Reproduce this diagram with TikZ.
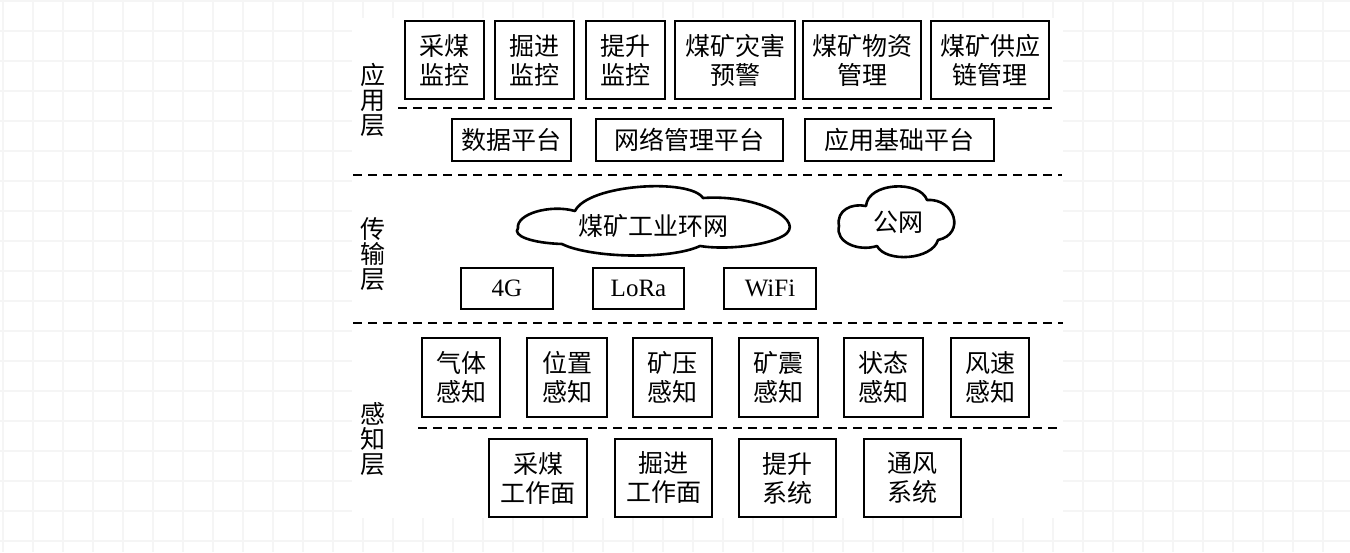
\documentclass[tikz,border=0pt]{standalone}
\usepackage{fontspec}
\setmainfont{Liberation Serif}
\newfontfamily\cjk{Noto Sans CJK SC}
\tikzset{
  gridline/.style={black!4, line width=1.3pt},
  boxn/.style={draw, line width=2.8pt, inner sep=0pt, align=center,
    font=\cjk\fontsize{25}{29}\selectfont},
  latinbox/.style={draw, line width=2.8pt, inner sep=0pt,
    font=\fontsize{25}{27}\selectfont},
  sep/.style={line width=2.8pt, dash pattern=on 9pt off 6pt},
  layerlabel/.style={align=center, inner sep=0pt, font=\cjk\fontsize{25}{25}\selectfont},
  cloudline/.style={draw, line width=2.6pt, line join=round},
  cloudtext/.style={inner sep=0pt, font=\cjk\fontsize{25}{29}\selectfont}
}
\begin{document}
\begin{tikzpicture}[x=1pt,y=-1pt]
\useasboundingbox (0,0) rectangle (1350,552);
% background grid
\foreach \i in {0,...,44} { \draw[gridline] (3+30*\i,0) -- (3+30*\i,552); }
\foreach \j in {0,...,18} { \draw[gridline] (0,1+30*\j) -- (1350,1+30*\j); }
\fill[white] (352,18) rectangle (1063,518);

% layer labels
\node[layerlabel] (l1) at (373,100) {应\\用\\层};
\node[layerlabel] (l2) at (373,254) {传\\输\\层};
\node[layerlabel] (l3) at (373,439) {感\\知\\层};

% application layer
\node[boxn, minimum width=79pt, minimum height=78pt] (a1) at (444.5,60) {采煤\\监控};
\node[boxn, minimum width=79pt, minimum height=78pt] (a2) at (534.5,60) {掘进\\监控};
\node[boxn, minimum width=79pt, minimum height=78pt] (a3) at (625.5,60) {提升\\监控};
\node[boxn, minimum width=120pt, minimum height=78pt] (a4) at (735,60) {煤矿灾害\\预警};
\node[boxn, minimum width=118pt, minimum height=78pt] (a5) at (862,60) {煤矿物资\\管理};
\node[boxn, minimum width=118pt, minimum height=78pt] (a6) at (990,60) {煤矿供应\\链管理};

\draw[sep] (398,108) -- (1053,108);

\node[boxn, minimum width=119pt, minimum height=42pt] (p1) at (511.5,140) {数据平台};
\node[boxn, minimum width=187pt, minimum height=42pt] (p2) at (689.5,140) {网络管理平台};
\node[boxn, minimum width=189pt, minimum height=42pt] (p3) at (899.5,140) {应用基础平台};

\draw[sep] (353,175) -- (1062,175);

% transport layer: clouds
\draw[cloudline] (518,228) .. controls (516,214) and (550,204) .. (575,211)
  .. controls (588,184) and (690,178) .. (703,198)
  .. controls (760,194) and (808,222) .. (783,236)
  .. controls (765,246) and (725,250) .. (700,246)
  .. controls (670,260) and (590,258) .. (562,244)
  .. controls (532,243) and (512,236) .. (518,228) -- cycle;
\node[cloudtext] (c1) at (653,226) {煤矿工业环网};
\draw[cloudline] (839,226) .. controls (836,210) and (852,203) .. (866,206)
  .. controls (868,182) and (920,180) .. (927,200)
  .. controls (955,198) and (966,234) .. (938,240)
  .. controls (932,260) and (886,263) .. (877,246)
  .. controls (858,252) and (835,242) .. (839,226) -- cycle;
\node[cloudtext] (c2) at (898,222) {公网};

\node[latinbox, minimum width=92pt, minimum height=41pt] (t1) at (507,288.5) {4G};
\node[latinbox, minimum width=91pt, minimum height=41pt] (t2) at (638.5,288.5) {LoRa};
\node[latinbox, minimum width=92pt, minimum height=41pt] (t3) at (770,288.5) {WiFi};

\draw[sep] (353,323) -- (1063,323);

% perception layer
\node[boxn, minimum width=78pt, minimum height=79pt] (s1) at (461,377.5) {气体\\感知};
\node[boxn, minimum width=80pt, minimum height=79pt] (s2) at (567,377.5) {位置\\感知};
\node[boxn, minimum width=79pt, minimum height=79pt] (s3) at (672.5,377.5) {矿压\\感知};
\node[boxn, minimum width=79pt, minimum height=79pt] (s4) at (778.5,377.5) {矿震\\感知};
\node[boxn, minimum width=79pt, minimum height=79pt] (s5) at (883.5,377.5) {状态\\感知};
\node[boxn, minimum width=78pt, minimum height=79pt] (s6) at (990,377.5) {风速\\感知};

\draw[sep] (418,428) -- (1060,428);

\node[boxn, minimum width=98pt, minimum height=78pt] (w1) at (538,478) {采煤\\工作面};
\node[boxn, minimum width=97pt, minimum height=78pt] (w2) at (663.5,478) {掘进\\工作面};
\node[boxn, minimum width=97pt, minimum height=78pt] (w3) at (787.5,478) {提升\\系统};
\node[boxn, minimum width=97pt, minimum height=78pt] (w4) at (912.5,478) {通风\\系统};
\end{tikzpicture}
\end{document}
